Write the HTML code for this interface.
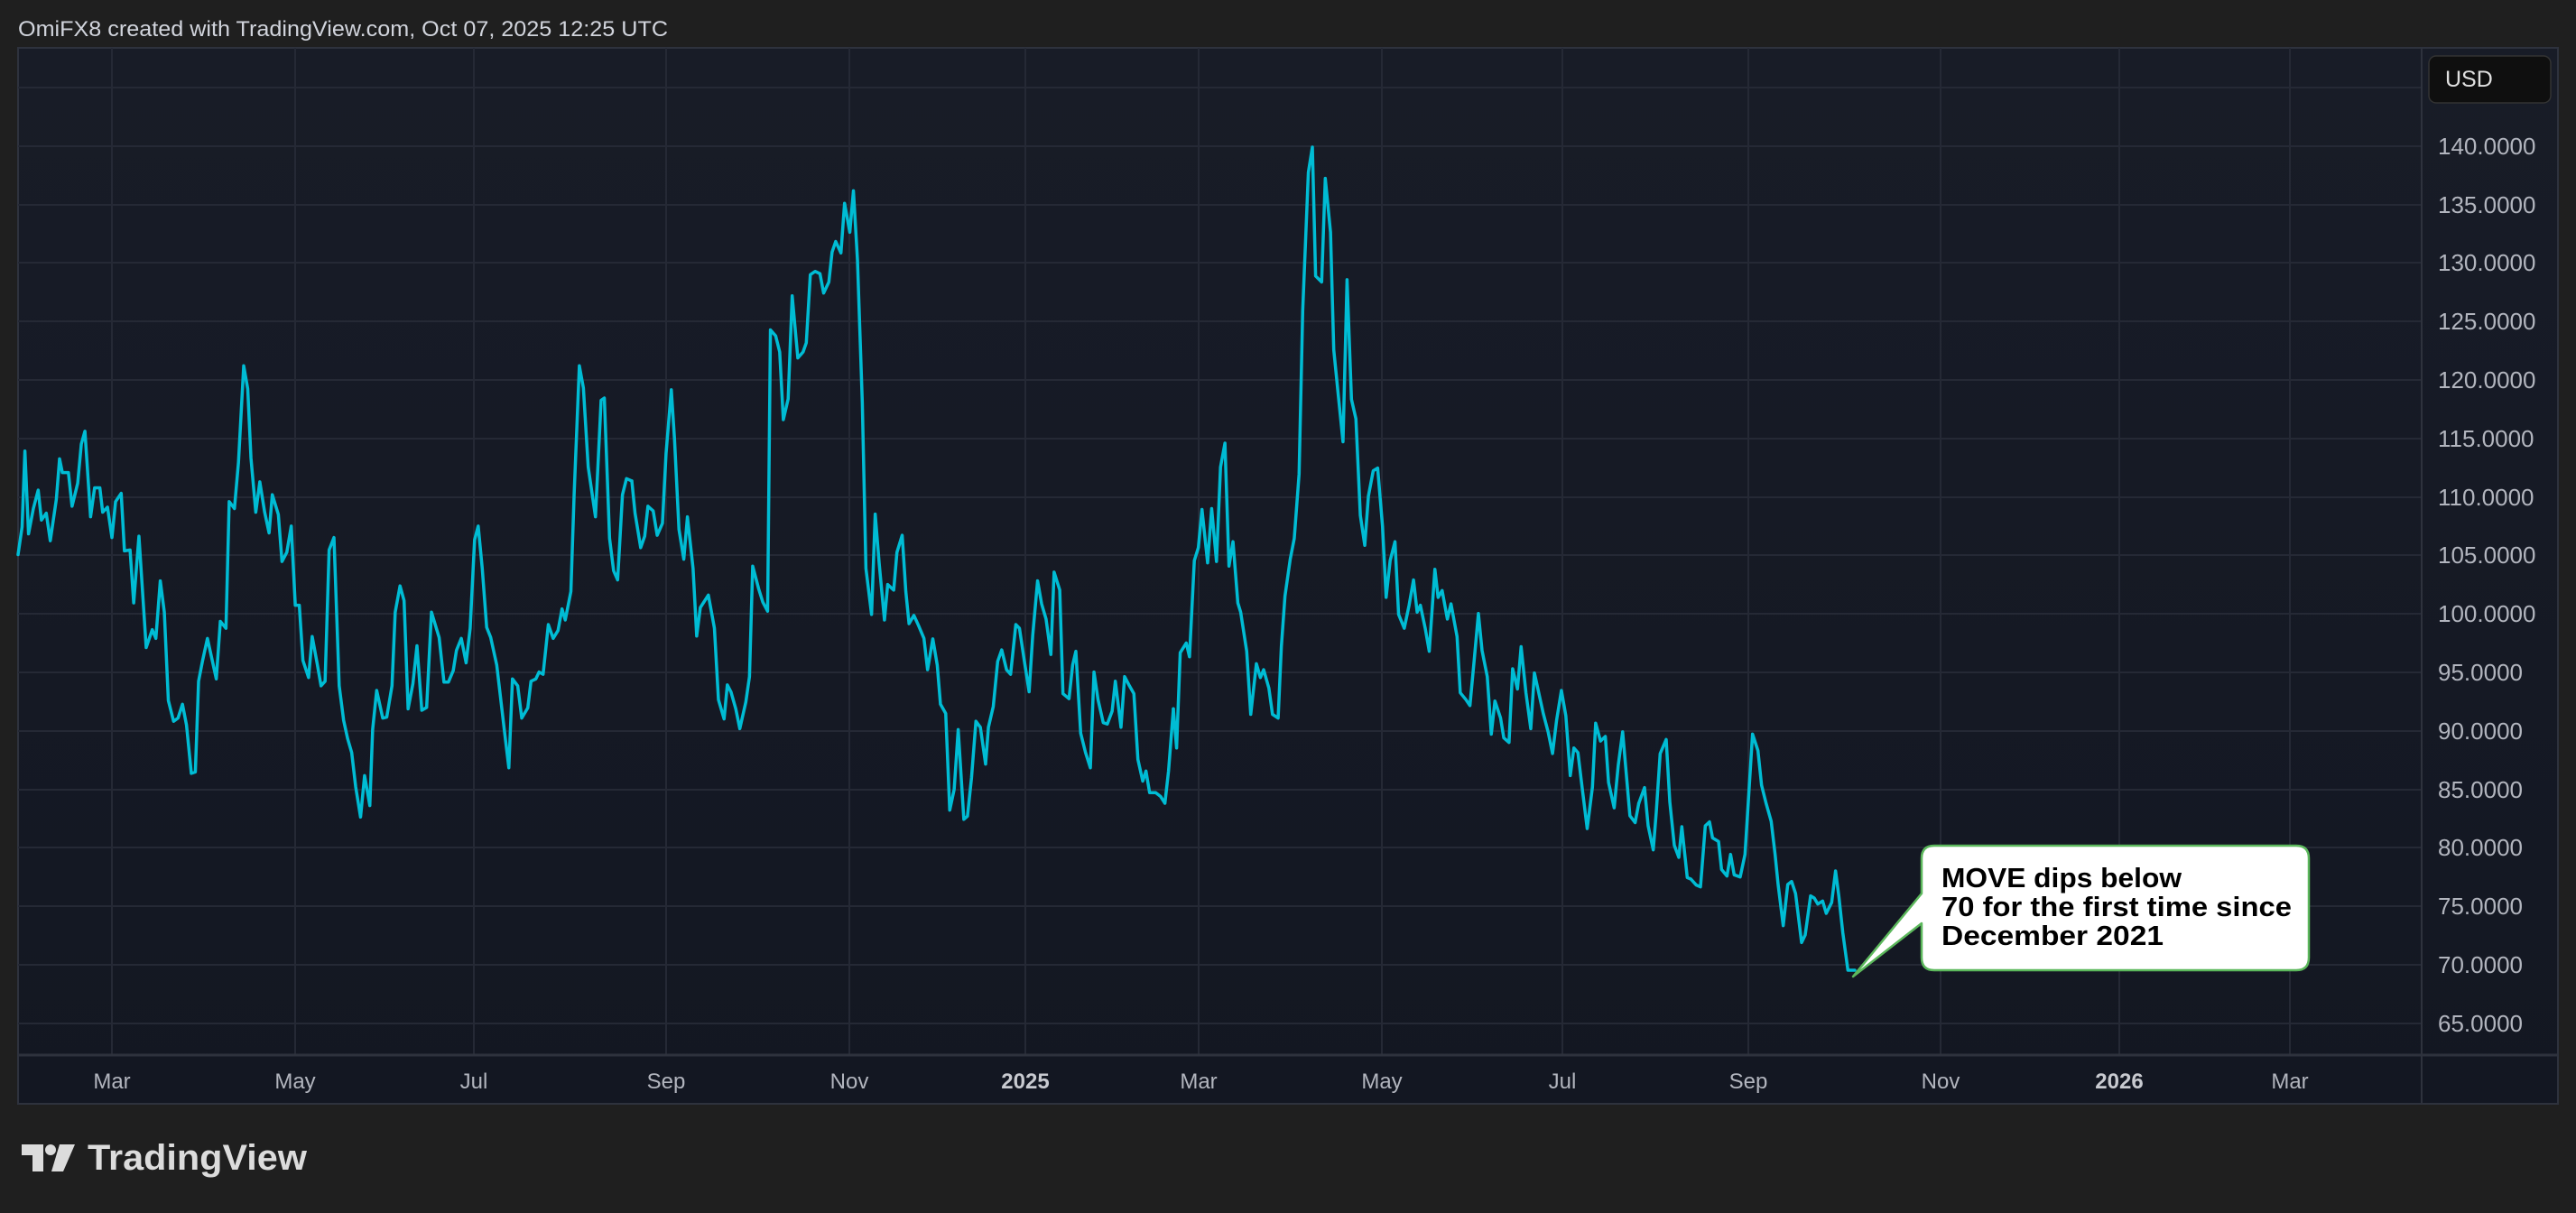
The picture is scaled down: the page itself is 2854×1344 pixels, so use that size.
<!DOCTYPE html>
<html><head><meta charset="utf-8"><style>
html,body{margin:0;padding:0;background:#1f1f1f;}
svg{display:block;}
</style></head><body>
<svg width="2854" height="1344" viewBox="0 0 2854 1344" xmlns="http://www.w3.org/2000/svg">
<defs>
<linearGradient id="bg" x1="0" y1="0" x2="0" y2="1">
<stop offset="0" stop-color="#181c27"/><stop offset="1" stop-color="#131722"/>
</linearGradient>
</defs>
<rect width="2854" height="1344" fill="#1f1f1f"/>
<text x="20" y="40" font-family="Liberation Sans, sans-serif" font-size="24" fill="#d1d4dc" textLength="720" lengthAdjust="spacingAndGlyphs">OmiFX8 created with TradingView.com, Oct 07, 2025 12:25 UTC</text>
<rect x="20" y="53" width="2814" height="1170" fill="url(#bg)" stroke="#2e323d" stroke-width="2"/>
<g stroke="#252935" stroke-width="2">
<line x1="20" x2="2683" y1="97" y2="97"/><line x1="20" x2="2683" y1="162" y2="162"/><line x1="20" x2="2683" y1="227" y2="227"/><line x1="20" x2="2683" y1="291" y2="291"/><line x1="20" x2="2683" y1="356" y2="356"/><line x1="20" x2="2683" y1="421" y2="421"/><line x1="20" x2="2683" y1="486" y2="486"/><line x1="20" x2="2683" y1="551" y2="551"/><line x1="20" x2="2683" y1="615" y2="615"/><line x1="20" x2="2683" y1="680" y2="680"/><line x1="20" x2="2683" y1="745" y2="745"/><line x1="20" x2="2683" y1="810" y2="810"/><line x1="20" x2="2683" y1="875" y2="875"/><line x1="20" x2="2683" y1="939" y2="939"/><line x1="20" x2="2683" y1="1004" y2="1004"/><line x1="20" x2="2683" y1="1069" y2="1069"/><line x1="20" x2="2683" y1="1134" y2="1134"/>
<line x1="124" x2="124" y1="53" y2="1168"/><line x1="327" x2="327" y1="53" y2="1168"/><line x1="525" x2="525" y1="53" y2="1168"/><line x1="738" x2="738" y1="53" y2="1168"/><line x1="941" x2="941" y1="53" y2="1168"/><line x1="1136" x2="1136" y1="53" y2="1168"/><line x1="1328" x2="1328" y1="53" y2="1168"/><line x1="1531" x2="1531" y1="53" y2="1168"/><line x1="1731" x2="1731" y1="53" y2="1168"/><line x1="1937" x2="1937" y1="53" y2="1168"/><line x1="2150" x2="2150" y1="53" y2="1168"/><line x1="2348" x2="2348" y1="53" y2="1168"/><line x1="2537" x2="2537" y1="53" y2="1168"/>
</g>
<line x1="20" x2="2834" y1="1169" y2="1169" stroke="#2e323d" stroke-width="3"/>
<line x1="2683" x2="2683" y1="53" y2="1223" stroke="#2e323d" stroke-width="2"/>
<rect x="2691" y="62" width="135" height="52" rx="8" fill="#0f0f0f" stroke="#333" stroke-width="1.5"/>
<text x="2709" y="96" font-family="Liberation Sans, sans-serif" font-size="25" fill="#e0e0e0">USD</text>
<g font-family="Liberation Sans, sans-serif" font-size="26" fill="#b2b5be">
<text x="2701" y="171">140.0000</text><text x="2701" y="236">135.0000</text><text x="2701" y="300">130.0000</text><text x="2701" y="365">125.0000</text><text x="2701" y="430">120.0000</text><text x="2701" y="495">115.0000</text><text x="2701" y="560">110.0000</text><text x="2701" y="624">105.0000</text><text x="2701" y="689">100.0000</text><text x="2701" y="754">95.0000</text><text x="2701" y="819">90.0000</text><text x="2701" y="884">85.0000</text><text x="2701" y="948">80.0000</text><text x="2701" y="1013">75.0000</text><text x="2701" y="1078">70.0000</text><text x="2701" y="1143">65.0000</text>
</g>
<g font-family="Liberation Sans, sans-serif" font-size="24" fill="#b2b5be" text-anchor="middle">
<text x="124" y="1206">Mar</text><text x="327" y="1206">May</text><text x="525" y="1206">Jul</text><text x="738" y="1206">Sep</text><text x="941" y="1206">Nov</text>
<text x="1136" y="1206" font-weight="bold" fill="#c8cad0">2025</text>
<text x="1328" y="1206">Mar</text><text x="1531" y="1206">May</text><text x="1731" y="1206">Jul</text><text x="1937" y="1206">Sep</text><text x="2150" y="1206">Nov</text>
<text x="2348" y="1206" font-weight="bold" fill="#c8cad0">2026</text>
<text x="2537" y="1206">Mar</text>
</g>
<g fill="none" stroke="#00bcd4" stroke-width="3.5" stroke-linejoin="round" stroke-linecap="round">
<g transform="translate(20,140) scale(0.44643,0.5102)">
<polyline vector-effect="non-scaling-stroke" points="0,930 10,870 17,705 26,885 38,830 50,790 58,855 70,840 80,900 95,810 103,722 110,752 125,752 134,825 148,775 157,690 166,662 180,848 190,785 203,785 210,838 222,827 233,893 242,815 256,797 264,922 278,920 287,1035 300,890 318,1132 333,1093 342,1112 353,987 363,1055 373,1247 386,1292 397,1285 408,1255 418,1300 430,1405 440,1402 448,1205 458,1160 470,1112 482,1160 492,1200 502,1075 516,1090 524,815 537,830 547,730 560,520 570,570 578,720 590,838 600,772 612,838 623,883 631,800 646,843 655,945 667,925 678,868 688,1040 698,1040 707,1160 721,1197 730,1108 742,1165 752,1215 762,1205 772,920 784,893 797,1215 808,1290 818,1330 828,1360 838,1435 850,1500 860,1410 873,1475 880,1310 890,1225 905,1285 915,1283 928,1215 936,1055 948,998 958,1030 968,1265 980,1210 990,1128 1002,1268 1014,1262 1026,1055 1045,1110 1057,1207 1068,1207 1080,1182 1088,1138 1100,1112 1112,1165 1122,1090 1133,898 1142,868 1152,960 1163,1088 1173,1110 1188,1170 1200,1260 1208,1320 1218,1393 1227,1200 1240,1215 1250,1285 1265,1263 1273,1205 1285,1200 1293,1185 1303,1190 1316,1082 1328,1112 1340,1095 1350,1048 1358,1072 1372,1010 1380,800 1393,520 1403,568 1415,740 1425,800 1433,848 1447,595 1455,590 1468,895 1478,965 1488,985 1500,800 1510,765 1523,770"/>
</g>
<g transform="translate(700,140) scale(0.44643,0.5102)">
<polyline vector-effect="non-scaling-stroke" points="0,770 8,840 22,915 32,890 40,825 53,835 63,888 76,862 85,710 98,572 106,680 117,875 129,940 138,848 152,960 161,1107 170,1045 190,1018 205,1090 215,1245 229,1287 237,1213 246,1228 258,1265 268,1308 283,1250 292,1195 300,955 315,1005 325,1033 337,1053 344,442 357,455 367,490 376,637 388,592 398,368 412,503 425,490 433,470 443,322 455,315 467,320 476,362 489,338 497,273 506,250 519,275 528,167 541,230 550,140 560,290 572,600 581,960 595,1060 604,842 614,950 627,1072 635,995 650,1007 658,925 671,888 680,1010 688,1080 700,1062 712,1085 725,1112 734,1180 747,1113 758,1170 766,1255 779,1275 789,1485 800,1440 810,1310 824,1505 833,1498 843,1415 854,1292 865,1305 878,1385 885,1305 897,1260 908,1162 918,1137 930,1180 940,1190 953,1082 962,1090 974,1160 986,1228 995,1105 1007,987 1017,1037 1028,1070 1040,1147 1048,968 1062,1007 1070,1232 1085,1243 1094,1170 1102,1140 1114,1318 1126,1360 1138,1393 1147,1185 1157,1245 1170,1295 1180,1298 1192,1270 1200,1205 1214,1305 1223,1195 1235,1215 1246,1232 1256,1375 1268,1422 1276,1400 1285,1447 1300,1447 1312,1455 1323,1470 1332,1400 1344,1265"/>
</g>
<g transform="translate(1300,140) scale(0.44643,0.5102)">
<polyline vector-effect="non-scaling-stroke" points="0,1265 8,1350 17,1143 32,1122 40,1152 52,943 62,915 71,832 85,948 95,830 107,945 117,740 128,688 138,955 148,902 160,1035 167,1055 182,1140 192,1277 206,1167 216,1197 224,1180 237,1220 246,1277 260,1285 268,1130 277,1020 290,940 300,895 312,755 321,400 335,100 345,45 353,325 368,338 377,113 390,230 398,485 410,590 421,685 431,333 442,593 453,635 464,845 475,910 484,803 496,748 507,742 519,868 528,1023 538,943 550,902 559,1060 573,1090 585,1040 596,985 605,1055 613,1040 625,1090 635,1140 649,962 657,1023 667,1008 680,1070 689,1037 704,1108 712,1230 726,1245 736,1258 747,1155 757,1058 766,1138 779,1195 789,1320 798,1248 812,1285 820,1328 833,1338 842,1178 854,1222 863,1130 875,1230 887,1308 896,1187 908,1235 918,1275 930,1315 941,1362 951,1290 963,1225 974,1280 985,1410 994,1350 1004,1360 1015,1440 1027,1525 1040,1435 1048,1296 1060,1335 1072,1325 1080,1425 1094,1480 1104,1388 1115,1315 1133,1497 1146,1512 1155,1470"/>
</g>
<g transform="translate(1800,800) scale(0.33333,0.33333)">
<polyline vector-effect="non-scaling-stroke" points="47,270 66,218 78,345 95,425 105,300 118,105 138,58 150,265 165,410 180,450 190,348 208,517 220,522 238,542 252,548 268,345 282,332 292,385 312,397 322,490 340,512 352,440 364,508 384,515 400,440 425,40 443,95 455,210 470,270 487,330 500,440 510,540 527,677 542,540 555,530 568,570 588,733 600,708 618,578 630,585 642,605 658,595 670,636 688,600 701,495 712,580 725,700 742,825 765,825"/>
</g>
</g>
<path d="M2143,937 H2544 Q2558,937 2558,951 V1061 Q2558,1075 2544,1075 H2143 Q2129,1075 2129,1061 V1023 L2053,1082 L2129,990 V951 Q2129,937 2143,937 Z" fill="#ffffff" stroke="#5cb85c" stroke-width="2.5" stroke-linejoin="round"/>
<g font-family="Liberation Sans, sans-serif" font-size="31" font-weight="bold" fill="#000">
<text x="2151" y="983" textLength="266" lengthAdjust="spacingAndGlyphs">MOVE dips below</text>
<text x="2151" y="1015" textLength="388" lengthAdjust="spacingAndGlyphs">70 for the first time since</text>
<text x="2151" y="1047" textLength="246" lengthAdjust="spacingAndGlyphs">December 2021</text>
</g>
<g fill="#dcdcdc">
<path d="M24,1268 H48 V1298 H36 V1280 H24 Z"/>
<circle cx="56" cy="1274" r="6"/>
<path d="M66,1268 H83 L70,1298 H57 Z"/>
</g>
<text x="97" y="1296" font-family="Liberation Sans, sans-serif" font-size="40" font-weight="bold" fill="#dcdcdc" textLength="243" lengthAdjust="spacingAndGlyphs">TradingView</text>
</svg>
</body></html>
